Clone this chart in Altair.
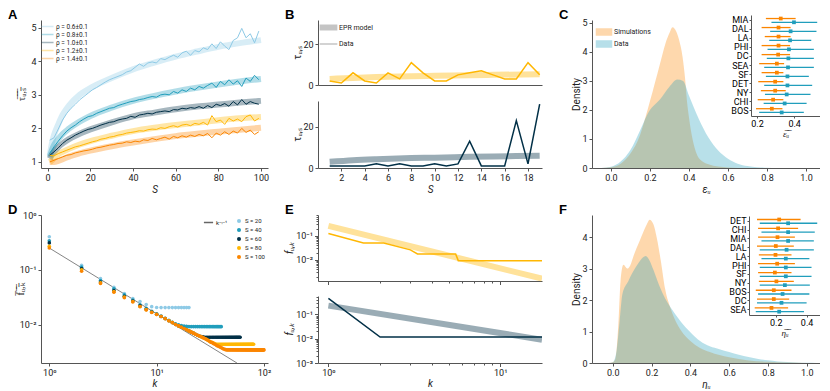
import altair as alt
import pandas as pd

FONT = "Roboto"
INK = "#222222"
GREY = "#555555"
PALETTE = ["#8ecae6", "#219ebc", "#023047", "#ffb703", "#fb8500"]

# ---------------- Panel A ----------------
A_labels = ["ρ = 0.6±0.1", "ρ = 0.8±0.1", "ρ = 1.0±0.1", "ρ = 1.2±0.1", "ρ = 1.4±0.1"]
A_band_S = [1, 2, 3, 5, 7, 10, 15, 20, 30, 40, 50, 60, 70, 80, 90, 100]
A_band_06 = [1.20, 1.55, 1.80, 2.12, 2.40, 2.68, 3.00, 3.20, 3.50, 3.76, 3.96, 4.14, 4.29, 4.43, 4.54, 4.63]
A_band_08 = [1.15, 1.35, 1.50, 1.68, 1.83, 1.99, 2.20, 2.37, 2.62, 2.82, 2.97, 3.10, 3.21, 3.31, 3.40, 3.47]
A_band_10 = [1.10, 1.22, 1.30, 1.44, 1.55, 1.68, 1.84, 1.97, 2.18, 2.36, 2.47, 2.57, 2.65, 2.71, 2.77, 2.82]
A_band_12 = [1.00, 1.05, 1.12, 1.23, 1.30, 1.39, 1.52, 1.62, 1.78, 1.92, 2.02, 2.10, 2.17, 2.24, 2.30, 2.34]
A_band_14 = [1.00, 1.00, 1.00, 1.03, 1.08, 1.16, 1.26, 1.34, 1.47, 1.58, 1.68, 1.77, 1.84, 1.90, 1.96, 2.02]
A_data_S = list(range(1, 100, 2))
A_data_06 = [1.65, 1.72, 1.98, 2.25, 2.45, 2.60, 2.72, 2.85, 2.95, 3.05,
             3.15, 3.22, 3.30, 3.38, 3.45, 3.50, 3.55, 3.60, 3.68, 3.72,
             3.82, 3.92, 3.85, 3.95, 3.98, 3.95, 4.08, 4.05, 4.12, 4.18,
             4.12, 4.25, 4.30, 4.18, 4.32, 4.28, 4.40, 4.35, 4.52, 4.38,
             4.58, 4.45, 4.35, 4.62, 4.70, 4.98, 4.70, 4.82, 4.55, 4.90]
A_data_08 = [1.25, 1.45, 1.62, 1.78, 1.92, 2.02, 2.10, 2.20, 2.28, 2.35,
             2.38, 2.45, 2.50, 2.55, 2.60, 2.62, 2.68, 2.72, 2.76, 2.80,
             2.82, 2.86, 2.88, 2.92, 2.95, 2.93, 3.00, 3.02, 3.00, 3.10,
             3.05, 3.15, 3.10, 3.20, 3.15, 3.25, 3.20, 3.28, 3.35, 3.22,
             3.40, 3.30, 3.45, 3.32, 3.42, 3.25, 3.50, 3.40, 3.58, 3.45]
A_data_10 = [1.20, 1.30, 1.42, 1.55, 1.65, 1.72, 1.80, 1.86, 1.92, 1.97,
             2.00, 2.05, 2.10, 2.14, 2.18, 2.20, 2.25, 2.28, 2.30, 2.36,
             2.33, 2.40, 2.42, 2.45, 2.43, 2.48, 2.50, 2.52, 2.50, 2.56,
             2.55, 2.60, 2.58, 2.62, 2.60, 2.65, 2.60, 2.68, 2.62, 2.72,
             2.68, 2.74, 2.66, 2.80, 2.70, 2.86, 2.72, 2.80, 2.75, 2.72]
A_data_12 = [1.20, 1.18, 1.25, 1.30, 1.35, 1.40, 1.45, 1.48, 1.52, 1.56,
             1.60, 1.63, 1.68, 1.70, 1.74, 1.76, 1.80, 1.82, 1.86, 1.88,
             1.90, 1.93, 1.92, 1.96, 1.98, 1.97, 2.02, 2.00, 2.05, 2.08,
             2.04, 2.10, 2.12, 2.08, 2.15, 2.12, 2.18, 2.10, 2.38, 2.20,
             2.25, 2.12, 2.30, 2.22, 2.28, 2.20, 2.35, 2.40, 2.22, 2.30]
A_data_14 = [1.00, 1.05, 1.10, 1.15, 1.20, 1.22, 1.27, 1.30, 1.33, 1.35,
             1.38, 1.42, 1.44, 1.47, 1.50, 1.52, 1.55, 1.56, 1.60, 1.58,
             1.62, 1.60, 1.66, 1.64, 1.70, 1.66, 1.70, 1.74, 1.68, 1.76,
             1.72, 1.78, 1.74, 1.80, 1.76, 1.82, 1.78, 1.85, 1.72, 1.86,
             1.80, 1.90, 1.82, 1.92, 1.86, 2.00, 1.88, 1.95, 1.82, 1.90]

# ---------------- Panel B ----------------
B_S = list(range(1, 20))
B_top_data = [2, 1, 6, 2, 1, 6, 3, 11, 6, 2, 2, 5, 6, 7, 5, 3, 3, 11, 5]
B_bot_data = [1, 1, 1, 1, 2, 1, 2, 1, 1, 2, 1, 2, 13, 1, 1, 1, 23, 2, 31]
B_band_S = [1, 3, 5, 8, 10, 13, 15, 19]
B_top_band = [3.0, 3.5, 3.9, 4.3, 4.5, 4.8, 5.0, 5.3]
B_bot_band = [3.0, 3.8, 4.3, 4.8, 5.0, 5.4, 5.6, 6.0]
B_kinds = ["EPR model", "Data"]

# ---------------- Panel C ----------------
KINDS = ["Simulations", "Data"]
C_x_sim = [-0.05, 0.0, 0.05, 0.1, 0.15, 0.2, 0.25, 0.28, 0.3, 0.316, 0.335, 0.35, 0.37,
           0.38, 0.39, 0.4, 0.42, 0.44, 0.47, 0.5, 0.55, 0.6, 0.65]
C_y_sim = [0.0, 0.03, 0.15, 0.5, 1.15, 2.3, 3.55, 4.3, 4.65, 4.85, 4.7, 4.4, 3.7,
           3.1, 2.3, 1.75, 0.95, 0.48, 0.22, 0.13, 0.05, 0.02, 0.0]
C_x_dat = [-0.05, 0.0, 0.05, 0.1, 0.15, 0.2, 0.22, 0.25, 0.3, 0.34, 0.37, 0.4, 0.45,
           0.5, 0.55, 0.6, 0.65, 0.7, 0.75, 0.8, 0.85]
C_y_dat = [0.0, 0.04, 0.22, 0.62, 1.3, 2.0, 2.15, 2.35, 2.8, 3.05, 3.0, 2.5, 1.7,
           1.05, 0.6, 0.32, 0.15, 0.07, 0.03, 0.01, 0.0]
C_cities = ["MIA", "DAL", "LA", "PHI", "DC", "SEA", "SF", "DET", "NY", "CHI", "BOS"]
C_sim_mid = [0.328, 0.316, 0.316, 0.316, 0.314, 0.307, 0.307, 0.298, 0.298, 0.287, 0.280]
C_sim_lo = [0.248, 0.225, 0.242, 0.225, 0.225, 0.212, 0.225, 0.207, 0.221, 0.204, 0.195]
C_sim_hi = [0.408, 0.381, 0.381, 0.378, 0.378, 0.346, 0.342, 0.342, 0.355, 0.342, 0.337]
C_dat_mid = [0.399, 0.381, 0.378, 0.372, 0.369, 0.367, 0.364, 0.364, 0.360, 0.349, 0.333]
C_dat_lo = [0.278, 0.271, 0.266, 0.257, 0.253, 0.239, 0.248, 0.239, 0.243, 0.236, 0.212]
C_dat_hi = [0.524, 0.520, 0.492, 0.506, 0.506, 0.506, 0.479, 0.497, 0.488, 0.467, 0.452]

# ---------------- Panel D ----------------
D_labels = ["S = 20", "S = 40", "S = 60", "S = 80", "S = 100"]
D_fit_label = ["k⁻ᵞ⁻¹"]
D_fit_k = [1, 56]
D_fit_f = [0.25, 0.002]
D_f20 = [0.40, 0.121, 0.069, 0.048, 0.037, 0.030, 0.0264, 0.0233, 0.0213, 0.0206] + [0.0205] * 10
D_f40 = [0.34, 0.112, 0.064, 0.045, 0.035, 0.028, 0.023, 0.0198, 0.0175, 0.0158,
         0.0143, 0.0131, 0.0120, 0.0111, 0.0104, 0.0099, 0.0096, 0.0094, 0.0093] + [0.0092] * 21
D_f60 = [0.31, 0.105, 0.060, 0.042, 0.033, 0.027, 0.022, 0.019, 0.017, 0.0155,
         0.0141, 0.0129, 0.0118, 0.0109, 0.0101, 0.0095, 0.0090, 0.0085, 0.0081, 0.0077,
         0.0073, 0.0070, 0.0067, 0.0064, 0.0062, 0.0061, 0.0060] + [0.0059] * 33
D_f80 = [0.27, 0.100, 0.058, 0.040, 0.032, 0.0265, 0.0215, 0.0188, 0.0168, 0.0154,
         0.0141, 0.0129, 0.0118, 0.0109, 0.0101, 0.0095, 0.0090, 0.0085, 0.0081, 0.0077,
         0.0073, 0.0070, 0.0067, 0.0064, 0.0062, 0.0060, 0.0058, 0.0056, 0.0054, 0.0052,
         0.0050, 0.0048, 0.0047, 0.0046, 0.0045] + [0.0044] * 45
D_f100 = [0.25, 0.094, 0.0565, 0.039, 0.031, 0.026, 0.0213, 0.0186, 0.0167, 0.0153,
          0.0141, 0.0129, 0.0118, 0.0109, 0.0101, 0.0095, 0.0090, 0.0085, 0.0081, 0.0077,
          0.0073, 0.0070, 0.0067, 0.0064, 0.0062, 0.0060, 0.0058, 0.0056, 0.0054, 0.0052,
          0.0050, 0.0048, 0.0047, 0.0045, 0.0044, 0.0042, 0.0041, 0.0040, 0.0039, 0.0038,
          0.0037, 0.0036, 0.00355, 0.0035] + [0.00347] * 56

# ---------------- Panel E ----------------
E_top_k = [1, 1.6, 2.1, 3.0, 3.3, 5.5, 5.7, 17.5]
E_top_f = [0.125, 0.05, 0.05, 0.026, 0.0177, 0.0177, 0.0093, 0.0093]
E_top_band_k = [1, 17.5]
E_top_band_f = [0.26, 0.00166]
E_bot_k = [1, 2, 17.5]
E_bot_f = [0.46, 0.0117, 0.0117]
E_bot_band_k = [1, 17.5]
E_bot_band_f = [0.23, 0.0091]

# ---------------- Panel F ----------------
F_x_sim = [-0.02, 0.0, 0.012, 0.03, 0.04, 0.055, 0.075, 0.09, 0.107, 0.14, 0.175, 0.19, 0.21,
           0.227, 0.247, 0.27, 0.3, 0.35, 0.4, 0.45, 0.5, 0.6, 0.7, 0.8, 0.9, 1.0]
F_y_sim = [0.0, 0.02, 0.1, 1.36, 2.6, 3.12, 3.0, 3.1, 3.4, 3.9, 4.4, 4.55, 4.4,
           3.97, 3.27, 2.35, 1.7, 1.05, 0.7, 0.48, 0.35, 0.18, 0.08, 0.04, 0.015, 0.0]
F_x_dat = [-0.02, 0.0, 0.02, 0.035, 0.05, 0.08, 0.1, 0.13, 0.155, 0.17, 0.19, 0.21, 0.24, 0.27,
           0.3, 0.35, 0.4, 0.45, 0.5, 0.55, 0.6, 0.65, 0.7, 0.75, 0.8, 0.85, 0.9, 0.95, 1.0, 1.05]
F_y_dat = [0.0, 0.02, 0.4, 1.3, 2.2, 2.6, 2.85, 3.15, 3.35, 3.4, 3.25, 2.95, 2.45, 2.05,
           1.75, 1.32, 0.98, 0.7, 0.53, 0.44, 0.35, 0.26, 0.19, 0.13, 0.085, 0.05, 0.03, 0.015, 0.005, 0.0]
F_cities = ["DET", "CHI", "MIA", "DAL", "LA", "PHI", "SF", "NY", "BOS", "DC", "SEA"]
F_sim_mid = [0.222, 0.215, 0.211, 0.200, 0.198, 0.209, 0.194, 0.204, 0.187, 0.187, 0.172]
F_sim_lo = [0.078, 0.085, 0.085, 0.078, 0.090, 0.085, 0.085, 0.090, 0.070, 0.078, 0.063]
F_sim_hi = [0.361, 0.345, 0.324, 0.317, 0.302, 0.324, 0.302, 0.317, 0.302, 0.287, 0.280]
F_dat_mid = [0.280, 0.280, 0.280, 0.270, 0.265, 0.265, 0.265, 0.259, 0.244, 0.237, 0.222]
F_dat_lo = [0.096, 0.107, 0.107, 0.096, 0.107, 0.096, 0.096, 0.096, 0.085, 0.078, 0.070]
F_dat_hi = [0.469, 0.453, 0.447, 0.447, 0.418, 0.432, 0.432, 0.421, 0.418, 0.400, 0.383]

# ---------------- layout sizes ----------------
W1, W2, W3 = 227, 224, 228
H = 148

LOG_LABEL = ("abs(datum.value-100)<1e-6 ? '10²' : abs(datum.value-10)<1e-6 ? '10¹' : "
             "abs(datum.value-1)<1e-9 ? '10⁰' : abs(datum.value-0.1)<1e-9 ? '10⁻¹' : "
             "abs(datum.value-0.01)<1e-10 ? '10⁻²' : abs(datum.value-0.001)<1e-11 ? '10⁻³' : ''")
MAJOR = ("abs(datum.value-100)<1e-6 || abs(datum.value-10)<1e-6 || abs(datum.value-1)<1e-9 || "
         "abs(datum.value-0.1)<1e-9 || abs(datum.value-0.01)<1e-10 || abs(datum.value-0.001)<1e-11")
MINOR_TICKS = {"condition": {"test": MAJOR, "value": 3.5}, "value": 2}


def letter(ch):
    return alt.Chart(pd.DataFrame({"t": [ch]})).mark_text(
        align="left", baseline="top", font="Liberation Sans", fontSize=13,
        fontWeight="bold", color="black"
    ).encode(text="t:N", x=alt.value(-33), y=alt.value(-11))


def log_ticks(lo, hi):
    vals = []
    for e in range(-4, 3):
        for m in range(1, 10):
            v = m * 10.0 ** e
            if lo <= v <= hi:
                vals.append(v)
    return vals


# ================= Panel A =================
a_band = pd.DataFrame([{"S": s, "v": v, "rho": lab}
                       for lab, vals in zip(A_labels, [A_band_06, A_band_08, A_band_10, A_band_12, A_band_14])
                       for s, v in zip(A_band_S, vals)])
a_data = pd.DataFrame([{"S": s, "v": v, "rho": lab}
                       for lab, vals in zip(A_labels, [A_data_06, A_data_08, A_data_10, A_data_12, A_data_14])
                       for s, v in zip(A_data_S, vals)])

xA = alt.X("S:Q", scale=alt.Scale(domain=[-3.1, 103.3], nice=False, zero=False),
           axis=alt.Axis(values=[0, 20, 40, 60, 80, 100], title="S", titleFontStyle="italic", titlePadding=2))
yA = alt.Y("v:Q", scale=alt.Scale(domain=[0.82, 5.23], nice=False, zero=False),
           axis=alt.Axis(values=[1, 2, 3, 4, 5], title="τ\u0305ᵤ\u0305,\u0305ₛ\u0305", titleX=-15))
legA = alt.Legend(title=None, orient="top-left", offset=2, labelFontSize=6.5,
                  symbolType="M-1.8,0H1.8", symbolSize=45, symbolStrokeWidth=1.5,
                  rowPadding=0, labelOffset=4)
colA = alt.Color("rho:N", scale=alt.Scale(domain=A_labels, range=PALETTE), legend=legA)

A_bands = alt.Chart(a_band).mark_line(strokeWidth=6, opacity=0.35, interpolate="monotone").encode(
    x=xA, y=yA, color=colA)
A_lines = alt.Chart(a_data).mark_line(strokeWidth=1).encode(x=xA, y=yA, color=colA)
panelA = alt.layer(A_bands, A_lines, letter("A")).properties(width=W1, height=H)


# ================= Panel B (two stacked sub-plots in one view) =================
B_TOP_RANGE = [65, 0]
B_BOT_RANGE = [H, 81]


def b_sub(band_vals, data_vals, color, ydom, yrange, show_x, legend):
    band_df = pd.DataFrame({"S": B_band_S, "v": band_vals})
    data_df = pd.DataFrame({"S": B_S, "v": data_vals})
    if show_x:
        xaxis = alt.Axis(values=list(range(2, 20, 2)), title="S", titleFontStyle="italic", orient="bottom",
                         titlePadding=2)
    else:
        xaxis = alt.Axis(labels=False, ticks=False, title=None, orient="bottom", offset=-(H - yrange[0]))
    x = alt.X("S:Q", scale=alt.Scale(domain=[0, 19.2], nice=False), axis=xaxis)
    y = alt.Y("v:Q", scale=alt.Scale(domain=ydom, range=yrange, nice=False),
              axis=alt.Axis(values=[0, 20], title="τᵤ,ₛ", orient="left", titleX=-16))
    band = alt.Chart(band_df).mark_line(color=color, strokeWidth=6, opacity=0.4,
                                        interpolate="monotone").encode(x=x, y=y)
    line = alt.Chart(data_df).mark_line(color=color, strokeWidth=1.5).encode(x=x, y=y)
    layers = [band, line]
    if legend:
        leg_df = pd.DataFrame({"kind": B_kinds, "S": [B_S[0]] * 2, "v": [0, 0]})
        leg = alt.Chart(leg_df).mark_line(color="#c4c4c4").encode(
            x=x, y=y,
            strokeWidth=alt.StrokeWidth("kind:N", scale=alt.Scale(domain=B_kinds, range=[6, 1.5]),
                                        legend=alt.Legend(title=None, orient="none", legendX=4, legendY=1,
                                                          labelFontSize=7, symbolType="M-2.8,0H2.8",
                                                          symbolSize=40, rowPadding=0, labelOffset=4,
                                                          symbolStrokeColor="#c4c4c4")),
        )
        layers.append(leg)
    return alt.layer(*layers)


panelB = alt.layer(
    b_sub(B_top_band, B_top_data, "#ffb703", [0, 32], B_TOP_RANGE, False, True),
    b_sub(B_bot_band, B_bot_data, "#023047", [0, 32.5], B_BOT_RANGE, True, False),
    letter("B"),
).resolve_scale(x="independent", y="independent").properties(width=W2, height=H)


# ================= Panels C and F =================
def density_panel(xs_sim, ys_sim, xs_dat, ys_dat, xdom, ymax, yvals, xtitle, cities, s_mid, s_lo, s_hi,
                  d_mid, d_lo, d_hi, ins_dom, ins_title, ins_xrange, ins_yrange, ch, show_legend):
    dens = pd.DataFrame([{"x": x, "d": d, "kind": "Simulations"} for x, d in zip(xs_sim, ys_sim)] +
                        [{"x": x, "d": d, "kind": "Data"} for x, d in zip(xs_dat, ys_dat)])
    cscale = alt.Scale(domain=KINDS, range=["#fb8500", "#219ebc"])
    if show_legend:
        leg = alt.Legend(title=None, orient="top-left", offset=6, labelFontSize=7,
                         symbolType="M-1.5,-0.6H1.5V0.6H-1.5Z", symbolSize=100,
                         rowPadding=0, labelOffset=4)
    else:
        leg = None
    area = alt.Chart(dens).mark_area(opacity=0.32, interpolate="monotone").encode(
        x=alt.X("x:Q", scale=alt.Scale(domain=xdom, nice=False),
                axis=alt.Axis(values=[0, 0.2, 0.4, 0.6, 0.8, 1.0], format=".1f", title=xtitle,
                              titleFontStyle="italic", titlePadding=2)),
        y=alt.Y("d:Q", stack=None, scale=alt.Scale(domain=[0, ymax], nice=False),
                axis=alt.Axis(values=yvals, title="Density", titleX=-11)),
        color=alt.Color("kind:N", scale=cscale, legend=leg),
    )

    ins = pd.DataFrame(
        [{"city": c, "kind": "Simulations", "lo": lo, "hi": hi, "mid": m}
         for c, m, lo, hi in zip(cities, s_mid, s_lo, s_hi)] +
        [{"city": c, "kind": "Data", "lo": lo, "hi": hi, "mid": m}
         for c, m, lo, hi in zip(cities, d_mid, d_lo, d_hi)])
    x0, x1 = ins_xrange
    xs = alt.Scale(domain=ins_dom, range=[x0, x1], nice=False, zero=False)
    ins_y = alt.Y("city:N", sort=cities,
                  scale=alt.Scale(range=ins_yrange, paddingOuter=0.1, paddingInner=0),
                  axis=alt.Axis(orient="left", offset=-x0, title=None, labelFontSize=9,
                                labelColor="black", tickSize=2, labelPadding=1))
    ins_yoff = alt.YOffset("kind:N", sort=KINDS, scale=alt.Scale(paddingOuter=0.2))
    rules = alt.Chart(ins).mark_rule(strokeWidth=1.3).encode(
        x=alt.X("lo:Q", scale=xs,
                axis=alt.Axis(orient="bottom", offset=-(H - ins_yrange[1]), values=[0.2, 0.4], format=".1f",
                              title=ins_title, labelFontSize=9, titleFontSize=9, titlePadding=1,
                              labelPadding=1, tickSize=2, titleFontStyle="italic", labelColor="black")),
        x2="hi:Q", y=ins_y, yOffset=ins_yoff,
        color=alt.Color("kind:N", scale=cscale, legend=None))
    pts = alt.Chart(ins).mark_square(size=14, opacity=1).encode(
        x=alt.X("mid:Q", scale=xs), y=ins_y, yOffset=ins_yoff,
        color=alt.Color("kind:N", scale=cscale, legend=None))
    inset = alt.layer(rules, pts)
    return alt.layer(area, inset, letter(ch)).resolve_scale(x="independent", y="independent").properties(
        width=W3, height=H)


panelC = density_panel(C_x_sim, C_y_sim, C_x_dat, C_y_dat, [-0.097, 1.072], 5.1, [0, 1, 2, 3, 4, 5], "εᵤ",
                       C_cities, C_sim_mid, C_sim_lo, C_sim_hi, C_dat_mid, C_dat_lo, C_dat_hi,
                       [0.168, 0.539], "ε\u0305ᵤ\u0305", [W3 - 69, W3], [-5, 96], "C", True)
panelF = density_panel(F_x_sim, F_y_sim, F_x_dat, F_y_dat, [-0.107, 1.068], 4.7, [0, 1, 2, 3, 4], "ηᵤ",
                       F_cities, F_sim_mid, F_sim_lo, F_sim_hi, F_dat_mid, F_dat_lo, F_dat_hi,
                       [0.026, 0.487], "η\u0305ᵤ\u0305", [W3 - 71, W3], [1, 100], "F", False)

# ================= Panel D =================
d_pts = pd.DataFrame([{"k": k, "f": v, "S": lab}
                      for lab, vals in zip(D_labels, [D_f20, D_f40, D_f60, D_f80, D_f100])
                      for k, v in enumerate(vals, start=1)])
d_fit = pd.DataFrame({"k": D_fit_k, "f": D_fit_f, "lab": D_fit_label * 2})
xD = alt.X("k:Q", scale=alt.Scale(type="log", domain=[0.837, 109], nice=False),
           axis=alt.Axis(values=[1, 10, 100], labelExpr=LOG_LABEL, title="k", titleFontStyle="italic",
                         titlePadding=1))
yD = alt.Y("f:Q", scale=alt.Scale(type="log", domain=[0.002, 1], nice=False),
           axis=alt.Axis(values=[0.01, 0.1, 1], labelExpr=LOG_LABEL,
                         title="f\u0305ᵤ\u0305,\u0305ₖ\u0305", titleX=-16))
D_line = alt.Chart(d_fit).mark_line(strokeWidth=0.8, clip=True).encode(
    x=xD, y=yD,
    color=alt.Color("lab:N", scale=alt.Scale(domain=D_fit_label, range=["#666666"]),
                    legend=alt.Legend(title=None, orient="top-right", offset=3, labelFontSize=6,
                                      symbolType="M-1.3,0H1.3", symbolSize=50, labelOffset=3)))
D_pts = alt.Chart(d_pts).mark_circle(size=13, opacity=1).encode(
    x=xD, y=yD,
    fill=alt.Fill("S:N", scale=alt.Scale(domain=D_labels, range=PALETTE),
                  legend=alt.Legend(title=None, orient="top-right", offset=3, labelFontSize=6,
                                    symbolSize=16, rowPadding=3, labelOffset=3)))
panelD = alt.layer(D_line, D_pts, letter("D")).properties(width=W1, height=H)

# ================= Panel E (two stacked sub-plots in one view) =================
E_TOP_RANGE = [66, 0]
E_BOT_RANGE = [H, 81]


def e_sub(k, f, bk, bf, color, ydom, yrange, show_x):
    d1 = pd.DataFrame({"k": bk, "f": bf})
    d2 = pd.DataFrame({"k": k, "f": f})
    if show_x:
        xaxis = alt.Axis(values=list(range(1, 11)), labelExpr=LOG_LABEL, tickSize=MINOR_TICKS,
                         title="k", titleFontStyle="italic", orient="bottom", titlePadding=1)
    else:
        xaxis = alt.Axis(values=list(range(1, 11)), labels=False, tickSize=MINOR_TICKS, title=None,
                         orient="bottom", offset=-(H - yrange[0]))
    x = alt.X("k:Q", scale=alt.Scale(type="log", domain=[0.87, 17.5], nice=False), axis=xaxis)
    y = alt.Y("f:Q", scale=alt.Scale(type="log", domain=ydom, range=yrange, nice=False),
              axis=alt.Axis(values=log_ticks(ydom[0], ydom[1]), labelExpr=LOG_LABEL, orient="left",
                            tickSize=MINOR_TICKS, title="fᵤ,ₖ", titleFontStyle="italic", titleX=-24))
    band = alt.Chart(d1).mark_line(color=color, strokeWidth=6, opacity=0.4, clip=True).encode(x=x, y=y)
    line = alt.Chart(d2).mark_line(color=color, strokeWidth=1.5, clip=True).encode(x=x, y=y)
    return alt.layer(band, line)


panelE = alt.layer(
    e_sub(E_top_k, E_top_f, E_top_band_k, E_top_band_f, "#ffb703", [0.00133, 0.73], E_TOP_RANGE, False),
    e_sub(E_bot_k, E_bot_f, E_bot_band_k, E_bot_band_f, "#023047", [0.001, 0.575], E_BOT_RANGE, True),
    letter("E"),
).resolve_scale(x="independent", y="independent").properties(width=W2, height=H)

# ================= layout =================
chart = alt.concat(
    panelA, panelB, panelC, panelD, panelE, panelF,
    columns=3, spacing={"row": 47, "column": 50}, bounds="flush", align="each",
).resolve_scale(
    color="independent", fill="independent", strokeWidth="independent"
).properties(padding={"top": 1, "left": 0, "right": 0, "bottom": 0}).configure_axis(
    labelFont=FONT, titleFont=FONT, labelFontSize=9, titleFontSize=10, labelColor=INK,
    titleColor=INK, domainColor=GREY, tickColor=GREY, grid=False, titleFontWeight="normal",
    tickSize=3, labelPadding=2, titlePadding=3
).configure_legend(labelFont=FONT, labelColor=INK).configure_view(stroke=None)

chart.save("out.html", embed_options={"renderer": "svg", "actions": False})
